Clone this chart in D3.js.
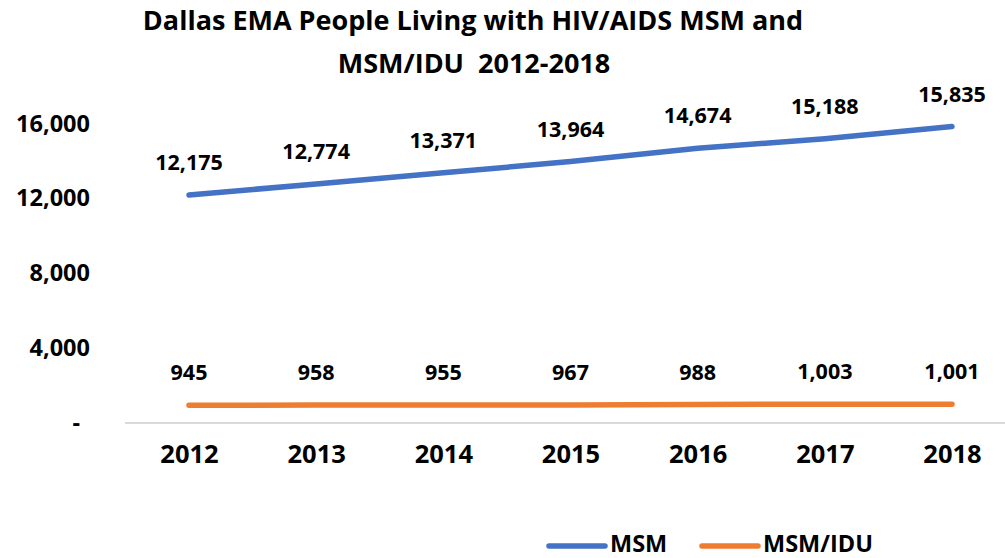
<!DOCTYPE html>
<html>
<head>
<meta charset="utf-8">
<script src="https://cdn.jsdelivr.net/npm/d3@7"></script>
<style>
  body { margin: 0; background: #fff; }
  text { font-family: "Open Sans", sans-serif; font-weight: bold; fill: #000; }
</style>
</head>
<body>
<script>
var width = 1005, height = 558;

// data
var years = ["2012","2013","2014","2015","2016","2017","2018"];
var msm = [12175, 12774, 13371, 13964, 14674, 15188, 15835];
var msmIdu = [945, 958, 955, 967, 988, 1003, 1001];
var yTicks = [0, 4000, 8000, 12000, 16000];
var seriesNames = ["MSM", "MSM/IDU"];
var seriesColors = ["#4472C4", "#ED7D31"];

var svg = d3.select("body").append("svg")
    .attr("width", width)
    .attr("height", height);

var x = d3.scalePoint().domain(years).range([189, 952]);
var y = d3.scaleLinear().domain([0, 16000]).range([423, 123.5]);

// title
svg.append("text").attr("x", 473).attr("y", 30)
   .attr("text-anchor", "middle").style("font-size", "27px")
   .text("Dallas EMA People Living with HIV/AIDS MSM and");
svg.append("text").attr("x", 474).attr("y", 73)
   .attr("text-anchor", "middle").style("font-size", "27px")
   .attr("xml:space", "preserve")
   .text("MSM/IDU  2012-2018");

// baseline
svg.append("line")
   .attr("x1", 125).attr("x2", 1005)
   .attr("y1", y(0)).attr("y2", y(0))
   .attr("stroke", "#d9d9d9").attr("stroke-width", 2);

// y axis
var fmt = d3.format(",");
var yAxis = svg.append("g").attr("transform", "translate(90,0)")
   .call(d3.axisLeft(y).tickValues(yTicks).tickSize(0)
        .tickFormat(function (d) { return d === 0 ? "-" : fmt(d); }));
yAxis.select(".domain").remove();
yAxis.selectAll("text")
   .attr("x", function (d) { return d === 0 ? -10 : 0; })
   .style("font-family", "Open Sans, sans-serif")
   .style("font-weight", "bold")
   .style("font-size", "23.5px");

// x axis
var xAxis = svg.append("g").attr("transform", "translate(0," + y(0) + ")")
   .call(d3.axisBottom(x).tickSize(0).tickPadding(22));
xAxis.select(".domain").remove();
xAxis.selectAll("text")
   .style("font-family", "Open Sans, sans-serif")
   .style("font-weight", "bold")
   .style("font-size", "25.5px");

var line = d3.line()
   .x(function (d, i) { return x(years[i]); })
   .y(function (d) { return y(d); });

[msm, msmIdu].forEach(function (vals, k) {
  svg.append("path")
     .datum(vals)
     .attr("d", line)
     .attr("fill", "none")
     .attr("stroke", seriesColors[k])
     .attr("stroke-width", 5.5)
     .attr("stroke-linecap", "round");

  svg.selectAll(".lbl" + k)
     .data(vals)
     .enter()
     .append("text")
     .attr("class", "lbl" + k)
     .attr("x", function (d, i) { return x(years[i]); })
     .attr("y", function (d) { return y(d) - 25; })
     .attr("text-anchor", "middle")
     .style("font-size", "21.5px")
     .text(function (d) { return fmt(d); });
});

// legend
var legendX = [549, 702];
seriesNames.forEach(function (name, k) {
  svg.append("line")
     .attr("x1", legendX[k]).attr("x2", legendX[k] + 56)
     .attr("y1", 546).attr("y2", 546)
     .attr("stroke", seriesColors[k])
     .attr("stroke-width", 5.5)
     .attr("stroke-linecap", "round");
  svg.append("text")
     .attr("x", legendX[k] + 61).attr("y", 552)
     .style("font-size", "23.5px")
     .text(name);
});
</script>
</body>
</html>
